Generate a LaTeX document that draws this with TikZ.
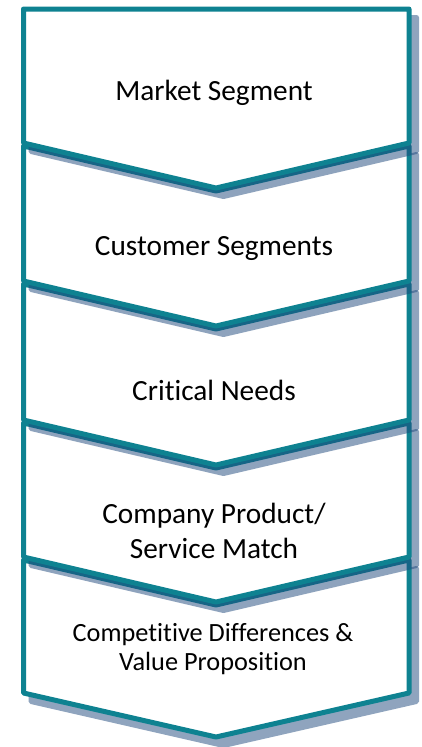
\documentclass[tikz,border=0pt]{standalone}
\usepackage{fontspec}
\setmainfont{Carlito}[Ligatures=NoCommon]
\definecolor{chevteal}{RGB}{14,130,145}
\definecolor{shadowblue}{RGB}{31,73,125}
\begin{document}
\begin{tikzpicture}[x=1pt,y=-1pt,
  chev/.style={fill=white, draw=chevteal, line width=5pt, line join=round},
  shad/.style={fill=shadowblue, draw=shadowblue, line width=5pt, line join=round},
  shadgroup/.style={transparency group, opacity=0.5},
  lbl/.style={font=\fontsize{29.3}{35}\selectfont, align=center, inner sep=0pt, anchor=base},
  lblsmall/.style={font=\fontsize{26.3}{29}\selectfont, align=center, inner sep=0pt, anchor=base}]
\useasboundingbox (0,0) rectangle (421,747);
\def\L{23.5}\def\R{409}\def\C{216}
% shape 5
\begin{scope}[shadgroup, shift={(7.5,8.5)}]
  \path[shad] (\L,560) -- (\C,605) -- (\R,560) -- (\R,693) -- (\C,737) -- (\L,693) -- cycle;
\end{scope}
\path[chev] (\L,560) -- (\C,605) -- (\R,560) -- (\R,693) -- (\C,737) -- (\L,693) -- cycle;
% shape 4
\begin{scope}[shadgroup, shift={(7.5,8.5)}]
  \path[shad] (\L,423) -- (\C,468) -- (\R,423) -- (\R,557) -- (\C,602) -- (\L,557) -- cycle;
\end{scope}
\path[chev] (\L,423) -- (\C,468) -- (\R,423) -- (\R,557) -- (\C,602) -- (\L,557) -- cycle;
% shape 3
\begin{scope}[shadgroup, shift={(7.5,8.5)}]
  \path[shad] (\L,284) -- (\C,329) -- (\R,284) -- (\R,420) -- (\C,465) -- (\L,420) -- cycle;
\end{scope}
\path[chev] (\L,284) -- (\C,329) -- (\R,284) -- (\R,420) -- (\C,465) -- (\L,420) -- cycle;
% shape 2
\begin{scope}[shadgroup, shift={(7.5,8.5)}]
  \path[shad] (\L,146) -- (\C,191) -- (\R,146) -- (\R,281) -- (\C,326) -- (\L,281) -- cycle;
\end{scope}
\path[chev] (\L,146) -- (\C,191) -- (\R,146) -- (\R,281) -- (\C,326) -- (\L,281) -- cycle;
% shape 1
\begin{scope}[shadgroup, shift={(7.5,8.5)}]
  \path[shad] (\L,9) -- (\R,9) -- (\R,143) -- (\C,188) -- (\L,143) -- cycle;
\end{scope}
\path[chev] (\L,9) -- (\R,9) -- (\R,143) -- (\C,188) -- (\L,143) -- cycle;
% labels
\node[lbl] (t1) at (214,100) {Market Segment};
\node[lbl] (t2) at (214,255) {Customer Segments};
\node[lbl] (t3) at (214,400) {Critical Needs};
\node[lbl] (t4) at (214,558) {Company Product/\\Service Match};
\node[lblsmall] (t5) at (213,670) {Competitive Differences \&\\Value Proposition};
\end{tikzpicture}
\end{document}
